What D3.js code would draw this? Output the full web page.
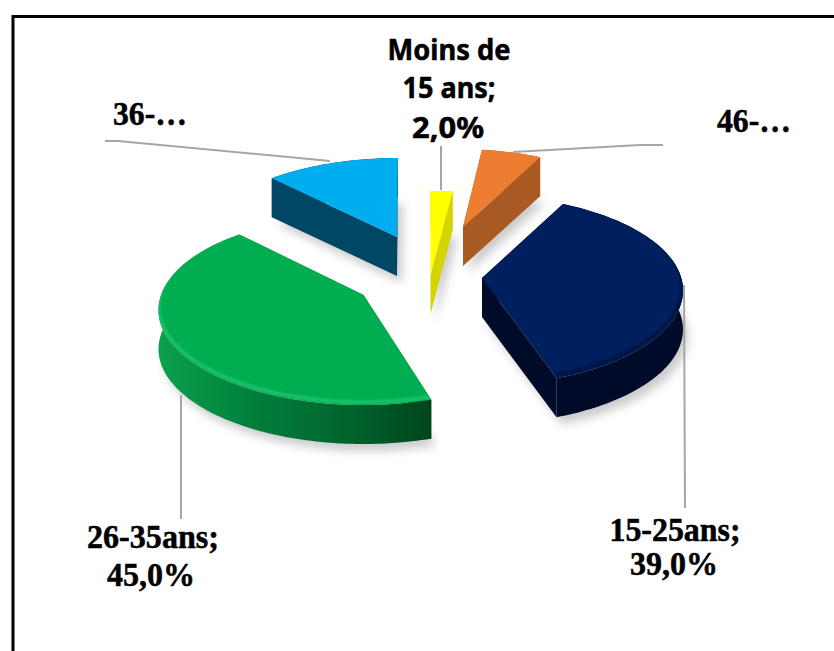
<!DOCTYPE html>
<html>
<head>
<meta charset="utf-8">
<script src="https://cdn.jsdelivr.net/npm/d3@7"></script>
<style>
  html, body { margin: 0; padding: 0; background: #fff; overflow: hidden; }
  svg { display: block; }
  text { fill: #000; stroke: #000; stroke-width: 0.5; font-weight: bold; text-anchor: middle; }
  .serif { font-family: "Liberation Serif", serif; font-size: 33px; }
  .sans { font-family: "Noto Sans", sans-serif; font-size: 28px; }
</style>
</head>
<body>
<svg width="834" height="651"></svg>
<script>
// donnees (les deux petites parts sont estimees)
const categories = ["Moins de 15 ans", "46-…", "15-25ans", "26-35ans", "36-…"];
const values = [2, 5, 39, 45, 9];
const topColors = ["#FFFF00", "#ED7D31", "#001F5E", "#00AD50", "#00ADEF"];
const wallColors = ["#D4D400", "#A85A22", "#000B2A", "url(#greenWall)", "#004766"];
const edgeColors = [null, null, "#000B2A", "#2BCB7A", null];

// projection de chaque part : centre de l'ellipse, moyeu, decalage et etirement des angles
const views = [
  { cx: 430.5, cy: 286, hx: 0, hy: -11, shift: 0, sweep: 0.86 },
  { cx: 457, cy: 244, hx: 6, hy: -17, shift: -0.2, sweep: 0.94 },
  { cx: 478, cy: 290.5, hx: 4, hy: -12.5, shift: -0.7, sweep: 0.947 },
  { cx: 363.5, cy: 310, hx: 0, hy: -15, shift: -4.9, sweep: 1 },
  { cx: 398, cy: 253, hx: -1, hy: -16, shift: -5.6, sweep: 1.173 }
];
const rx = 205, ry = 95, depth = 39;

const svg = d3.select("svg");

// cadre noir, coupe a droite et en bas
svg.append("rect")
  .attr("x", 13).attr("y", 16.5)
  .attr("width", 900).attr("height", 800)
  .attr("fill", "#fff").attr("stroke", "#000").attr("stroke-width", 3);

const defs = svg.append("defs");
defs.append("filter").attr("id", "soft")
  .attr("x", "-20%").attr("y", "-20%").attr("width", "140%").attr("height", "140%")
  .append("feGaussianBlur").attr("stdDeviation", 5);
defs.append("filter").attr("id", "edge")
  .attr("x", "-20%").attr("y", "-20%").attr("width", "140%").attr("height", "140%")
  .append("feGaussianBlur").attr("stdDeviation", 1.5);

const greenWall = defs.append("linearGradient").attr("id", "greenWall")
  .attr("gradientUnits", "userSpaceOnUse")
  .attr("x1", 160).attr("x2", 430).attr("y1", 0).attr("y2", 0);
greenWall.selectAll("stop")
  .data([[0, "#0AA04E"], [0.35, "#007F3A"], [0.7, "#00642C"], [1, "#00461C"]])
  .join("stop")
  .attr("offset", d => d[0])
  .attr("stop-color", d => d[1]);

const pie = d3.pie().sort(null).value(d => d);
const slices = pie(values).map(function(d, i) {
  return { index: i, start: d.startAngle, end: d.endAngle, view: views[i] };
});

const line = d3.line();

// angle de la part -> point de l'ellipse a l'ecran
function arcPoint(s, a, dy) {
  const t = s.start + s.view.shift * Math.PI / 180 + s.view.sweep * (a - s.start);
  return [s.view.cx + rx * Math.sin(t), s.view.cy - ry * Math.cos(t) + dy];
}

function arcPoints(s, dy) {
  const n = Math.max(4, Math.ceil((s.end - s.start) * 40));
  return d3.range(n + 1).map(k => arcPoint(s, s.start + (s.end - s.start) * k / n, dy));
}

function hub(s, dy) {
  return [s.view.cx + s.view.hx, s.view.cy + s.view.hy + dy];
}

function face(s, dy) {
  return line([hub(s, dy)].concat(arcPoints(s, dy))) + "Z";
}

// ombres d'abord
svg.append("g").selectAll("path")
  .data(slices)
  .join("path")
  .attr("d", d => face(d, depth))
  .attr("transform", "translate(5,7)")
  .attr("fill", "#000")
  .attr("opacity", 0.2)
  .attr("filter", "url(#soft)");

const parts = svg.append("g").selectAll("g")
  .data(slices)
  .join("g");

parts.each(function(s) {
  const g = d3.select(this);
  const arc = arcPoints(s, 0);
  const arcLow = arcPoints(s, depth);
  const h = hub(s, 0), hLow = hub(s, depth);
  const first = arc[0], last = arc[arc.length - 1];
  const firstLow = arcLow[0], lastLow = arcLow[arcLow.length - 1];

  // parois : les deux coupes puis le tour, d'un seul tenant
  const walls = [
    [h, first, firstLow, hLow],
    [h, last, lastLow, hLow],
    arc.concat(arcLow.slice().reverse())
  ];
  g.selectAll(".wall")
    .data(walls)
    .join("path")
    .attr("class", "wall")
    .attr("d", d => line(d) + "Z")
    .attr("fill", wallColors[s.index]);

  g.append("path")
    .attr("d", face(s, 0))
    .attr("fill", topColors[s.index]);

  // liseré du bord avant pour l'effet de biseau, garde dans le dessus de la part
  if (edgeColors[s.index]) {
    defs.append("clipPath").attr("id", "top" + s.index)
      .append("path").attr("d", face(s, 0));
    g.append("g").attr("clip-path", "url(#top" + s.index + ")")
      .append("path")
      .attr("d", line(arc.map(p => [p[0], p[1] - 3])))
      .attr("fill", "none")
      .attr("stroke", edgeColors[s.index])
      .attr("stroke-width", 2.5)
      .attr("filter", "url(#edge)");
  }
});

// lignes de repere
const leaders = [
  [[105, 141], [118, 141], [330, 161]],
  [[513, 152], [640, 145], [663, 145]],
  [[441, 146], [441, 190]],
  [[684, 285], [685, 508]],
  [[181, 395], [181, 519]]
];
svg.append("g").selectAll("path")
  .data(leaders)
  .join("path")
  .attr("d", d => line(d))
  .attr("fill", "none")
  .attr("stroke", "#A6A6A6")
  .attr("stroke-width", 2);

// etiquettes
const labelTexts = [
  ["Moins de", "15 ans;", "2,0%"],
  [categories[1]],
  [categories[2] + ";", "39,0%"],
  [categories[3] + ";", "45,0%"],
  [categories[4]]
];
const labelPlaces = [
  { cls: "sans", x: [449, 449, 448], y: [60, 98, 138], w: [123, 93, 72] },
  { cls: "serif", x: [754], y: [132], w: [74] },
  { cls: "serif", x: [675, 674], y: [541, 575], w: [131, 88] },
  { cls: "serif", x: [153, 151], y: [548, 586], w: [132, 88] },
  { cls: "serif", x: [150], y: [125], w: [74] }
];
labelTexts.forEach(function(lines, i) {
  const p = labelPlaces[i];
  svg.append("g").selectAll("text")
    .data(lines)
    .join("text")
    .attr("class", p.cls)
    .attr("x", (d, k) => p.x[k])
    .attr("y", (d, k) => p.y[k])
    .attr("textLength", (d, k) => p.w[k])
    .attr("lengthAdjust", "spacingAndGlyphs")
    .text(d => d);
});
</script>
</body>
</html>
